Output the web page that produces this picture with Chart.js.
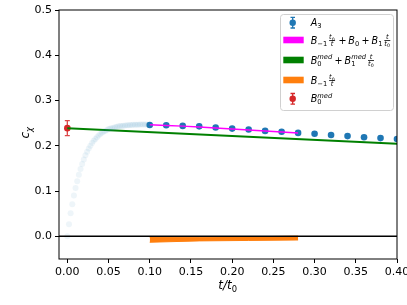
<!DOCTYPE html>
<html><head><meta charset="utf-8">
<script src="https://cdn.jsdelivr.net/npm/chart.js@4"></script>
<style>html,body{margin:0;padding:0;background:#fff}canvas{display:block}</style>
</head><body>
<canvas id="c" width="407" height="305"></canvas>
<script>
// ---- data ----
const fadedT = [0.000,0.002,0.004,0.006,0.008,0.010,0.012,0.014,0.016,0.018,0.020,0.022,0.024,0.026,0.028,0.030,0.032,0.034,0.036,0.038,0.040,0.042,0.044,0.046,0.048,0.050,0.052,0.054,0.056,0.058,0.060,0.062,0.064,0.066,0.068,0.070,0.072,0.074,0.076,0.078,0.080,0.082,0.084,0.086,0.088,0.090,0.092,0.094,0.096,0.098,0.100];
const fadedY = [0.000,0.027,0.051,0.071,0.090,0.107,0.122,0.136,0.149,0.160,0.170,0.179,0.187,0.194,0.200,0.206,0.211,0.215,0.219,0.223,0.226,0.229,0.231,0.233,0.235,0.237,0.238,0.239,0.240,0.241,0.242,0.243,0.2435,0.244,0.2445,0.245,0.2453,0.2456,0.246,0.2462,0.2464,0.2466,0.2467,0.2468,0.2469,0.247,0.247,0.247,0.247,0.2468,0.2466];
const a3T = [0.10,0.12,0.14,0.16,0.18,0.20,0.22,0.24,0.26,0.28,0.30,0.32,0.34,0.36,0.38,0.40];
const a3Y = [0.246,0.2455,0.244,0.243,0.2405,0.238,0.236,0.233,0.231,0.2285,0.2265,0.224,0.2215,0.219,0.217,0.215];
const fitT = [0.10,0.14,0.18,0.22,0.26,0.28];
const fitY = [0.2465,0.2435,0.2395,0.235,0.2305,0.2285];
const medT = [0.00,0.40];
const medY = [0.239,0.2045];
const orangeT = [0.10,0.16,0.22,0.28];
const orangeHi = [-0.0025,-0.0020,-0.0010,0.0005];
const orangeLo = [-0.0130,-0.0100,-0.0090,-0.0080];
const b0MedT = [0.0];
const b0MedY = [0.239];
const b0MedErr = [0.0165];
const zeroLevel = 0;
const xTicks = [0.00,0.05,0.10,0.15,0.20,0.25,0.30,0.35,0.40];
const yTicks = [0.0,0.1,0.2,0.3,0.4,0.5];

const pts = (xs, ys) => xs.map((x, i) => ({x: x, y: ys[i]}));
const FONT = '"DejaVu Sans"';

// ---- tiny math-text renderer ----
function fontStr(size, it){ return (it ? 'italic ' : '') + size + 'px ' + FONT; }
function mWidth(ctx, tokens, size){
  let w = 0;
  for (const tk of tokens){
    if (tk.s !== undefined){ ctx.font = fontStr(size, tk.it); w += ctx.measureText(tk.s).width; }
    else if (tk.sub || tk.sup){
      const a = tk.sub ? mWidth(ctx, tk.sub, size*0.7) : 0;
      const b = tk.sup ? mWidth(ctx, tk.sup, size*0.7) : 0;
      w += Math.max(a, b) + size*0.05;
    } else if (tk.frac){
      const a = mWidth(ctx, tk.frac[0], size*0.7), b = mWidth(ctx, tk.frac[1], size*0.7);
      w += Math.max(a, b) + size*0.3;
    }
  }
  return w;
}
function mDraw(ctx, tokens, x, y, size){
  ctx.textAlign = 'left'; ctx.textBaseline = 'alphabetic';
  for (const tk of tokens){
    if (tk.s !== undefined){ ctx.font = fontStr(size, tk.it); ctx.fillText(tk.s, x, y); x += ctx.measureText(tk.s).width; }
    else if (tk.sub || tk.sup){
      let a = 0, b = 0;
      if (tk.sub){ a = mWidth(ctx, tk.sub, size*0.7); mDraw(ctx, tk.sub, x, y + size*0.22, size*0.7); }
      if (tk.sup){ b = mWidth(ctx, tk.sup, size*0.7); mDraw(ctx, tk.sup, x, y - size*0.42, size*0.7); }
      x += Math.max(a, b) + size*0.05;
    } else if (tk.frac){
      const s2 = size*0.7;
      const a = mWidth(ctx, tk.frac[0], s2), b = mWidth(ctx, tk.frac[1], s2);
      const W = Math.max(a, b), x0 = x + size*0.15, axis = y - size*0.3;
      mDraw(ctx, tk.frac[0], x0 + (W-a)/2, axis - size*0.12, s2);
      mDraw(ctx, tk.frac[1], x0 + (W-b)/2, axis + size*0.1 + s2*0.66, s2);
      ctx.fillRect(x0, axis - 0.4, W, 0.8);
      x += W + size*0.3;
    }
  }
}
const T = (s, it) => ({s: s, it: !!it});
const tSub0 = [T('t',1), {sub:[T('0')]}];
const PLUS = '\u2009+\u2009';
const legendItems = [
  {kind:'err', color:'#1f77b4', tokens:[T('A',1), {sub:[T('3')]}]},
  {kind:'patch', color:'#ff00ff', tokens:[T('B',1), {sub:[T('\u22121')]}, {frac:[tSub0,[T('t',1)]]}, T(PLUS), T('B',1), {sub:[T('0')]}, T(PLUS), T('B',1), {sub:[T('1')]}, {frac:[[T('t',1)], tSub0]}]},
  {kind:'patch', color:'#008000', tokens:[T('B',1), {sub:[T('0')], sup:[T('med',1)]}, T(PLUS), T('B',1), {sub:[T('1')], sup:[T('med',1)]}, {frac:[[T('t',1)], tSub0]}]},
  {kind:'patch', color:'#ff7f0e', tokens:[T('B',1), {sub:[T('\u22121')]}, {frac:[tSub0,[T('t',1)]]}]},
  {kind:'err', color:'#d62728', tokens:[T('B',1), {sub:[T('0')], sup:[T('med',1)]}]}
];

const deco = {
  id: 'deco',
  beforeDatasetsDraw(chart){
    const ctx = chart.ctx, xs = chart.scales.x, ys = chart.scales.y;
    ctx.save();
    ctx.strokeStyle = 'rgba(214,39,40,0.85)'; ctx.lineWidth = 1.3;
    b0MedT.forEach((t, i) => {
      const px = xs.getPixelForValue(t);
      const y1 = ys.getPixelForValue(b0MedY[i] + b0MedErr[i]);
      const y2 = ys.getPixelForValue(b0MedY[i] - b0MedErr[i]);
      ctx.beginPath();
      ctx.moveTo(px, y1); ctx.lineTo(px, y2);
      ctx.moveTo(px-2.5, y1); ctx.lineTo(px+2.5, y1);
      ctx.moveTo(px-2.5, y2); ctx.lineTo(px+2.5, y2);
      ctx.stroke();
    });
    ctx.restore();
  },
  afterDatasetsDraw(chart){
    const ctx = chart.ctx, xs = chart.scales.x, ys = chart.scales.y, a = chart.chartArea;
    ctx.save();
    // zero line
    const py = ys.getPixelForValue(zeroLevel);
    ctx.strokeStyle = '#000'; ctx.lineWidth = 1.5;
    ctx.beginPath(); ctx.moveTo(a.left, py); ctx.lineTo(a.right, py); ctx.stroke();
    // frame
    ctx.lineWidth = 1;
    ctx.strokeRect(a.left, a.top, a.right - a.left, a.bottom - a.top);
    // axis titles
    ctx.fillStyle = '#000';
    const xt = [T('t',1), T('/',1), T('t',1), {sub:[T('0')]}];
    const xw = mWidth(ctx, xt, 12);
    mDraw(ctx, xt, (a.left + a.right)/2 - xw/2, 289, 12);
    const yt = [T('c',1), {sub:[T('\u03c7',1)]}];
    const yw = mWidth(ctx, yt, 12);
    ctx.save();
    ctx.translate(29, (a.top + a.bottom)/2 - 2);
    ctx.rotate(-Math.PI/2);
    mDraw(ctx, yt, -yw/2, 0, 12);
    ctx.restore();
    // legend
    const lx = 280, ly = 14, lw = 113, lh = 96;
    ctx.beginPath();
    ctx.roundRect(lx + 0.5, ly + 0.5, lw, lh, 3);
    ctx.fillStyle = 'rgba(255,255,255,0.85)'; ctx.fill();
    ctx.strokeStyle = '#d0d0d0'; ctx.lineWidth = 1; ctx.stroke();
    const centers = [22.7, 40, 60, 80, 98.8];
    legendItems.forEach((it, i) => {
      const cy = centers[i];
      if (it.kind === 'patch'){
        ctx.fillStyle = it.color;
        ctx.fillRect(283.3, cy - 3.3, 20.4, 6.6);
      } else {
        ctx.strokeStyle = it.color; ctx.lineWidth = 1.3;
        ctx.beginPath();
        ctx.moveTo(292.7, cy - 5.3); ctx.lineTo(292.7, cy + 5.3);
        ctx.moveTo(290.5, cy - 5.3); ctx.lineTo(295, cy - 5.3);
        ctx.moveTo(290.5, cy + 5.3); ctx.lineTo(295, cy + 5.3);
        ctx.stroke();
        ctx.fillStyle = it.color;
        ctx.beginPath(); ctx.arc(292.7, cy, 3.2, 0, Math.PI*2); ctx.fill();
      }
      ctx.fillStyle = '#000';
      mDraw(ctx, it.tokens, 310.7, cy + 3.5, 9.6);
    });
    ctx.restore();
  }
};

new Chart(document.getElementById('c'), {
  type: 'scatter',
  data: {
    datasets: [
      {label:'faded', data: pts(fadedT, fadedY), pointRadius: 3, pointBorderWidth: 0, backgroundColor:'rgba(31,119,180,0.075)', borderColor:'rgba(0,0,0,0)'},
      {label:'med', type:'line', data: pts(medT, medY), borderColor:'#008000', borderWidth: 2, pointRadius: 0, fill:false},
      {label:'fit', type:'line', data: pts(fitT, fitY), borderColor:'#ff00ff', borderWidth: 1.5, pointRadius: 0, fill:false, tension: 0.3},
      {label:'oLo', type:'line', data: pts(orangeT, orangeLo), borderColor:'#ff7f0e', borderWidth: 1, pointRadius: 0, fill:false},
      {label:'oHi', type:'line', data: pts(orangeT, orangeHi), borderColor:'#ff7f0e', backgroundColor:'#ff7f0e', borderWidth: 1, pointRadius: 0, fill:'-1'},
      {label:'A3', data: pts(a3T, a3Y), pointRadius: 3.3, pointBorderWidth: 0, backgroundColor:'#1f77b4', borderColor:'#1f77b4'},
      {label:'B0med', data: pts(b0MedT, b0MedY), pointRadius: 3.3, pointBorderWidth: 0, backgroundColor:'#d62728', borderColor:'#d62728'}
    ]
  },
  options: {
    responsive: false,
    animation: false,
    devicePixelRatio: 1,
    layout: {padding: {top: 10, right: 10, left: 0, bottom: 0}},
    plugins: {legend: {display: false}, tooltip: {enabled: false}},
    scales: {
      x: {
        type: 'linear', min: -0.0101, max: 0.40,
        afterBuildTicks: s => { s.ticks = xTicks.map(v => ({value: v})); },
        afterFit: s => { s.height = 46; s.paddingLeft = 0; s.paddingRight = 0; },
        ticks: {callback: v => v.toFixed(2), color:'#000', font:{family:'DejaVu Sans', size: 11}, padding: 3, maxRotation: 0, autoSkip: false},
        grid: {display: true, drawOnChartArea: false, drawTicks: true, tickLength: 4, tickColor:'#000', lineWidth: 1},
        border: {display: false}
      },
      y: {
        type: 'linear', min: -0.05, max: 0.5,
        afterBuildTicks: s => { s.ticks = yTicks.map(v => ({value: v})); },
        afterFit: s => { s.width = 59; s.paddingTop = 0; s.paddingBottom = 0; },
        ticks: {callback: v => v.toFixed(1), color:'#000', font:{family:'DejaVu Sans', size: 11}, padding: 3, autoSkip: false},
        grid: {display: true, drawOnChartArea: false, drawTicks: true, tickLength: 4, tickColor:'#000', lineWidth: 1},
        border: {display: false}
      }
    }
  },
  plugins: [deco]
});
</script>
</body></html>
